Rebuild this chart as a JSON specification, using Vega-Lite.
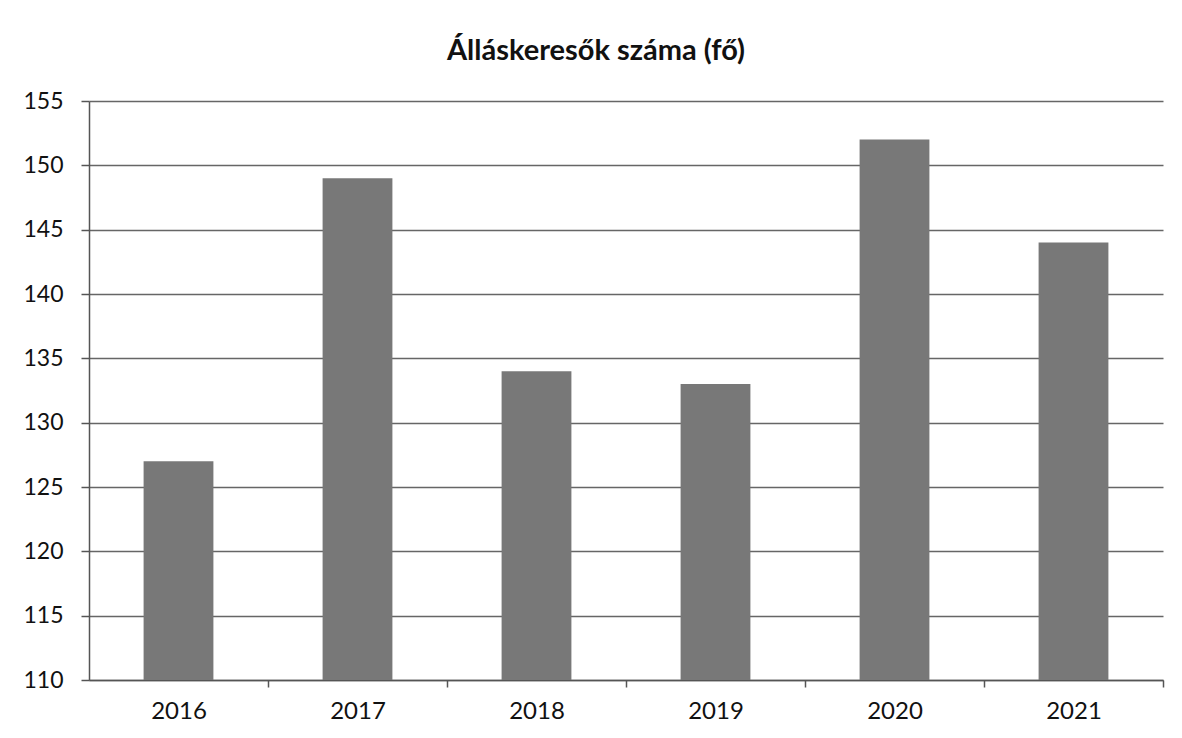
{
  "$schema": "https://vega.github.io/schema/vega-lite/v6.json",
  "autosize": "none",
  "width": 1074,
  "height": 579,
  "padding": {"left": 89, "top": 101, "right": 19, "bottom": 58},
  "background": "white",
  "title": {
    "text": "Álláskeresők száma (fő)",
    "font": "Lato",
    "fontSize": 29,
    "fontWeight": "bold",
    "color": "#111111",
    "anchor": "middle",
    "dx": -30,
    "offset": 24
  },
  "data": {
    "values": [
      {"ev": "2016", "fo": 127},
      {"ev": "2017", "fo": 149},
      {"ev": "2018", "fo": 134},
      {"ev": "2019", "fo": 133},
      {"ev": "2020", "fo": 152},
      {"ev": "2021", "fo": 144}
    ]
  },
  "mark": {"type": "bar", "color": "#787878", "clip": true},
  "encoding": {
    "x": {
      "field": "ev",
      "type": "nominal",
      "scale": {"paddingInner": 0.61, "paddingOuter": 0.305},
      "axis": {
        "title": null,
        "labelAngle": 0,
        "labelFont": "Lato",
        "labelFontSize": 24,
        "labelColor": "#111111",
        "labelPadding": 12,
        "tickOffset": 89.5,
        "labelOffset": -89.5,
        "tickSize": 7,
        "tickColor": "#555555",
        "tickWidth": 1.5,
        "domainColor": "#555555",
        "domainWidth": 1.5,
        "grid": false
      }
    },
    "y": {
      "field": "fo",
      "type": "quantitative",
      "scale": {"domain": [110, 155], "zero": false, "nice": false},
      "axis": {
        "title": null,
        "values": [110, 115, 120, 125, 130, 135, 140, 145, 150, 155],
        "labelFont": "Lato",
        "labelFontSize": 23,
        "labelColor": "#111111",
        "labelPadding": 18,
        "tickSize": 8,
        "tickColor": "#555555",
        "tickWidth": 1.5,
        "domainColor": "#555555",
        "domainWidth": 1.5,
        "grid": true,
        "gridColor": "#666666",
        "gridWidth": 1.5
      }
    }
  },
  "config": {"view": {"stroke": null}}
}
